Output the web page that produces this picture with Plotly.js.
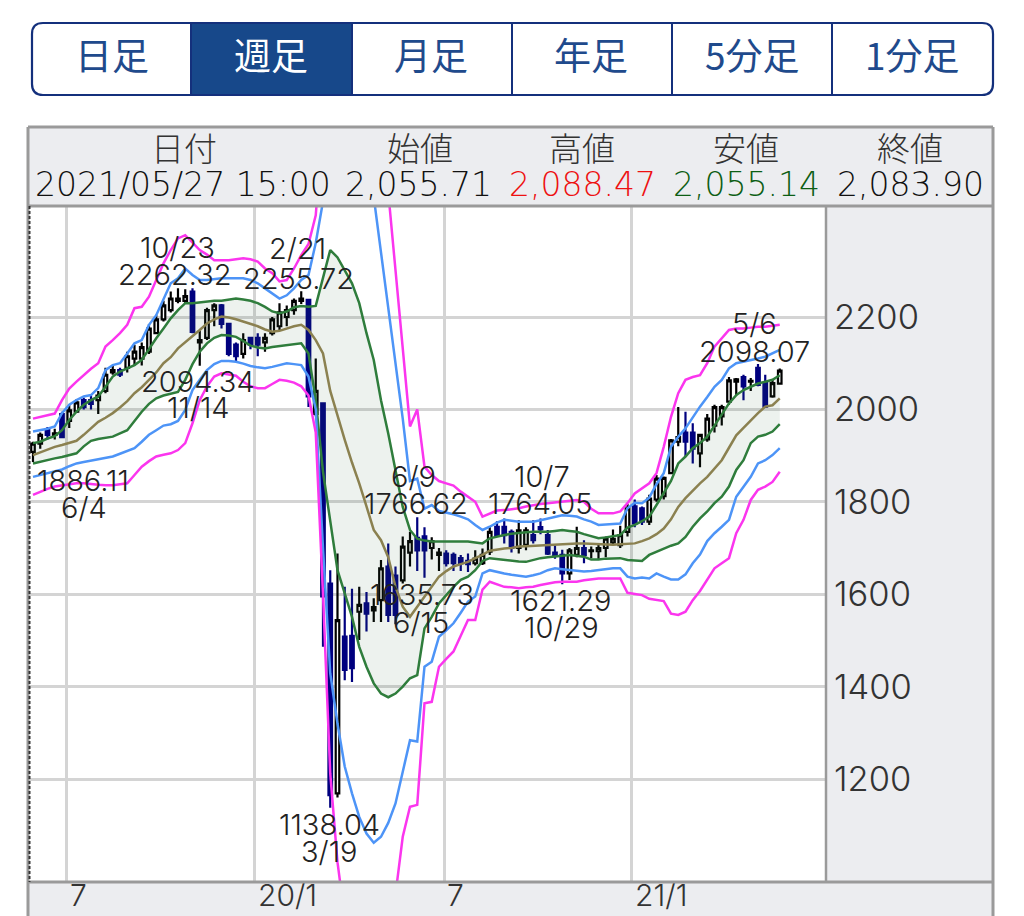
<!DOCTYPE html>
<html><head><meta charset="utf-8">
<script src="https://cdn.plot.ly/plotly-3.0.1.min.js"></script>
<style>html,body{margin:0;padding:0;background:#fff}#c{width:1024px;height:916px}</style>
</head><body><div id="c"></div>
<script>
const tabLabels=["日足","週足","月足","年足","5分足","1分足"];
const headerLabels=["日付","始値","高値","安値","終値"];
const headerValues=["2021/05/27 15:00","2,055.71","2,088.47","2,055.14","2,083.90"];
const xTickLabels=["7","20/1","7","21/1"];
const yTicks=[1200,1400,1600,1800,2000,2200];

const open=[1908,1926,1955,1945,1990,1975,1995,2020,2020,2020,
2040,2080,2085,2090,2110,2110,2125,2165,2195,2215,
2235,2235,2255,2145,2155,2215,2225,2185,2140,2120,
2155,2155,2145,2165,2180,2200,2215,2235,2237,1990,
2013,1623,1169,1508,1510,1562,1580,1565,1587,1660,
1640,1630,1690,1722,1725,1700,1685,1688,1685,1678,
1672,1667,1667,1692,1746,1746,1735,1700,1707,1728,
1745,1728,1690,1685,1645,1685,1700,1693,1693,1700,
1712,1706,1735,1790,1786,1757,1805,1812,1862,1930,
1950,1950,1905,1935,1965,1985,2017,2060,2070,2060,
2090,2057,2028,2055.71];
const high=[1930,1950,1962,1958,1995,2010,2022,2025,2030,2040,
2090,2095,2090,2125,2140,2145,2185,2205,2235,2255,
2262.32,2260,2262,2170,2220,2230,2228,2187,2145,2165,
2155,2165,2165,2200,2230,2225,2240,2255.72,2238,2110,
2013,1652,1688,1616,1612,1616,1605,1591,1674,1710,
1660,1725,1735,1766.62,1745,1723,1700,1695,1690,1685,
1688,1695,1699,1746,1758,1764,1740,1760,1745,1760,
1764.05,1739,1706,1696,1700,1746,1717,1703,1708,1725,
1740,1748,1795,1805,1790,1815,1858,1855,1936,2005,
1995,1970,1945,1990,2010,2010,2070,2068,2075,2068,
2098.07,2075,2065,2088.47];
const low=[1886.11,1915,1935,1935,1938,1960,1992,2000,2000,1990,
2035,2075,2070,2080,2095,2095,2120,2165,2190,2210,
2230,2230,2165,2094.34,2150,2180,2175,2115,2105,2110,
2130,2115,2125,2160,2170,2180,2205,2228,2005,1985,
1486,1138.04,1160,1414,1410,1501,1519,1540,1540,1540,
1535,1623,1660,1650,1635.73,1675,1650,1660,1650,1650,
1648,1662,1663,1685,1725,1710,1690,1688,1695,1710,
1730,1685,1677,1621.29,1631,1680,1667,1678,1675,1680,
1705,1700,1725,1745,1750,1750,1800,1805,1860,1920,
1897,1883,1875,1930,1950,1965,2010,2030,2020,2040,
2050,2003,2025,2055.14];
const close=[1926,1945,1945,1948,1940,1998,2015,2005,2012,2030,
2075,2085,2075,2115,2125,2135,2175,2195,2225,2240,
2240,2245,2168,2150,2215,2225,2185,2120,2115,2150,
2140,2140,2155,2195,2210,2215,2235,2240,2028,2040,
1595,1165,1544,1436,1440,1577,1558,1572,1656,1555,
1555,1703,1715,1695,1695,1715,1690,1667,1667,1667,
1665,1677,1685,1735,1728,1728,1700,1738,1738,1717,
1740,1688,1685,1645,1695,1700,1685,1695,1700,1720,
1720,1728,1786,1753,1757,1807,1850,1852,1933,1940,
1930,1915,1945,1980,2005,2005,2063,2065,2050,2062,
2053,2006,2057,2083.90];

const ma=[1901,1907,1913,1919,1923,1927,1932,1945,1960,1973,
1982,1992,2004,2018,2035,2048,2064,2080,2100,2113,
2132,2145,2157,2172,2186,2195,2201,2199,2195,2190,
2185,2180,2173,2168,2170,2175,2180,2183,2172,2150,
2121,2040,1985,1934,1885,1840,1790,1739,1717,1680,
1616,1573,1551,1573,1595,1617,1638,1650,1660,1665,
1670,1678,1685,1694,1697,1699,1700,1703,1704,1705,
1706,1707,1708,1709,1710,1710,1710,1709,1708,1708,
1707,1708,1709,1710,1715,1721,1730,1742,1762,1789,
1808,1825,1840,1854,1872,1890,1917,1944,1960,1977,
1992,2006,2009,2024];
const greenUp=[1927,1930,1937,1942,1955,1977,1995,2010,2020,2028,
2049,2071,2082,2089,2096,2107,2132,2154,2175,2197,
2215,2230,2230,2232,2233,2235,2235,2237,2240,2238,
2235,2230,2222,2212,2208,2212,2221,2224,2222,2224,
2285,2345,2329,2302,2273,2230,2165,2107,2020,1948,
1869,1789,1739,1720,1716,1714,1714,1714,1714,1714,
1714,1712,1710,1721,1725,1728,1731,1733,1734,1735,
1735,1735,1737,1739,1737,1735,1730,1725,1721,1723,
1725,1728,1744,1750,1758,1768,1793,1818,1845,1883,
1898,1916,1927,1941,1966,1991,2013,2031,2042,2049,
2056,2060,2064,2074];
const greenLo=[1883,1887,1890,1894,1897,1901,1905,1920,1932,1936,
1939,1941,1948,1955,1975,1995,2012,2024,2030,2034,
2038,2064,2098,2125,2143,2155,2161,2160,2157,2148,
2138,2134,2132,2135,2137,2139,2142,2143,2121,2020,
1865,1760,1652,1602,1551,1486,1443,1407,1385,1377,
1385,1400,1418,1425,1526,1551,1580,1598,1616,1631,
1638,1652,1672,1678,1676,1674,1672,1671,1670,1674,
1678,1680,1681,1683,1685,1683,1681,1675,1675,1677,
1678,1678,1674,1673,1672,1685,1692,1699,1705,1710,
1724,1746,1764,1779,1797,1811,1833,1869,1890,1927,
1941,1945,1952,1968];
const blueUp=[1952,1955,1958,1963,1992,2010,2020,2028,2031,2046,
2085,2096,2100,2121,2143,2150,2183,2204,2237,2273,
2284,2305,2291,2280,2280,2282,2284,2284,2284,2284,
2280,2273,2262,2251,2240,2247,2262,2280,2291,2360,
2450,2620,2700,2730,2720,2680,2600,2460,2340,2230,
2110,1980,1845,1850,1785,1793,1780,1777,1773,1768,
1762,1750,1739,1746,1755,1761,1759,1757,1757,1757,
1760,1764,1768,1771,1770,1768,1762,1757,1750,1751,
1753,1753,1786,1798,1797,1809,1838,1862,1919,1941,
1959,1984,2006,2027,2049,2064,2089,2100,2103,2107,
2110,2114,2121,2129];
const blueLo=[1854,1858,1862,1865,1870,1877,1883,1886,1889,1892,
1895,1898,1904,1910,1916,1930,1945,1955,1965,1968,
1975,1999,2042,2064,2085,2098,2105,2105,2103,2099,
2094,2091,2089,2092,2096,2100,2098,2096,2071,2000,
1700,1429,1320,1227,1169,1118,1082,1062,1075,1105,
1147,1219,1284,1281,1443,1454,1508,1522,1537,1560,
1584,1595,1645,1652,1648,1645,1642,1640,1638,1641,
1645,1652,1656,1654,1652,1650,1649,1650,1652,1654,
1656,1656,1638,1634,1636,1634,1645,1638,1632,1632,
1643,1667,1686,1715,1732,1746,1761,1811,1833,1854,
1883,1890,1901,1916];
const magentaUp=[1980,1984,1988,1991,2020,2045,2060,2075,2088,2100,
2136,2150,2165,2183,2219,2222,2244,2280,2316,2345,
2370,2377,2360,2345,2335,2323,2323,2323,2325,2327,
2325,2320,2305,2295,2277,2280,2305,2334,2358,2420,
2620,2850,2960,3000,3000,2980,2920,2820,2640,2470,
2290,2130,1963,2000,1876,1858,1845,1840,1835,1822,
1810,1800,1768,1775,1781,1782,1784,1786,1790,1793,
1795,1797,1799,1800,1802,1804,1800,1785,1775,1775,
1775,1779,1797,1818,1830,1840,1862,1919,1984,2035,
2064,2070,2074,2100,2136,2154,2172,2175,2175,2177,
2179,2179,2181,2183];
const magentaLo=[1815,1822,1828,1833,1835,1837,1840,1840,1838,1837,
1836,1836,1838,1840,1858,1876,1888,1898,1902,1905,
1912,1927,1970,2020,2050,2071,2078,2076,2073,2060,
2050,2046,2046,2055,2064,2062,2058,2050,2030,1950,
1600,1212,1020,900,800,740,700,700,760,850,
950,1075,1140,1144,1364,1367,1443,1460,1476,1510,
1544,1544,1610,1627,1622,1616,1615,1613,1615,1616,
1620,1623,1626,1627,1627,1627,1630,1632,1634,1634,
1634,1634,1603,1600,1598,1590,1587,1585,1558,1555,
1562,1587,1607,1631,1656,1667,1678,1732,1761,1804,
1826,1833,1843,1865];

const peakLabels=[
 ["10/23",177,248],["2262.32",175,275],["2/21",297,249],["2255.72",298,278],
 ["2094.34",198,382],["11/14",198,408],["1886.11",83,480],["6/4",84,507],
 ["6/9",413,477],["1766.62",416,503],["10/7",542,477],["1764.05",540,503],
 ["1635.73",422,594],["6/15",421,622],["1621.29",561,600],["10/29",561,627],
 ["1138.04",329,824],["3/19",329,851],["5/6",754,323],["2098.07",754,351]];

const W=1024,H=916;
const fx=p=>p/W, fy=p=>1-p/H;
const LAT='Inter, "Noto Sans CJK JP", sans-serif';
const WIDE='"DejaVu Sans", sans-serif';
const CJK='"Noto Sans CJK JP", sans-serif';
const idx=ma.map((_,i)=>i);
const PANEL='#ecedf0', EDGE='#9a9a9a', NAVY='#14307c';

function line(name,y,color,extra){return Object.assign({type:'scatter',mode:'lines',name,x:idx,y,line:{color,width:2.5},hoverinfo:'skip'},extra||{});}
const traces=[
 {type:'candlestick',name:'週足',x:idx,open,high,low,close,whiskerwidth:0,
  increasing:{line:{color:'#000000',width:2.2},fillcolor:'#ffffff'},
  decreasing:{line:{color:'#00007f',width:2.2},fillcolor:'#00007f'}},
 line('-1σ',greenLo,'#2f7d3c'),
 line('+1σ',greenUp,'#2f7d3c',{fill:'tonexty',fillcolor:'rgba(60,115,70,0.09)'}),
 line('+2σ',blueUp,'#4d94f7'),
 line('-2σ',blueLo,'#4d94f7'),
 line('+3σ',magentaUp,'#fb35ee'),
 line('-3σ',magentaLo,'#fb35ee'),
 line('MA',ma,'#8b8150')
];

function rect(x0,y0,x1,y1,o){return Object.assign({type:'rect',xref:'paper',yref:'paper',x0:fx(x0),x1:fx(x1),y0:fy(y1),y1:fy(y0),line:{width:0},layer:'below'},o||{});}
function seg(x0,y0,x1,y1,color,width,dash){return {type:'line',xref:'paper',yref:'paper',x0:fx(x0),x1:fx(x1),y0:fy(y0),y1:fy(y1),line:{color,width,dash:dash||'solid'},layer:'above'};}
function rounded(x0,y0,x1,y1,r){const X=fx,Y=fy;return `M${X(x0+r)},${Y(y0)}L${X(x1-r)},${Y(y0)}Q${X(x1)},${Y(y0)} ${X(x1)},${Y(y0+r)}L${X(x1)},${Y(y1-r)}Q${X(x1)},${Y(y1)} ${X(x1-r)},${Y(y1)}L${X(x0+r)},${Y(y1)}Q${X(x0)},${Y(y1)} ${X(x0)},${Y(y1-r)}L${X(x0)},${Y(y0+r)}Q${X(x0)},${Y(y0)} ${X(x0+r)},${Y(y0)}Z`;}

const shapes=[
 rect(28,127,993,206,{fillcolor:PANEL}),
 rect(826,206,993,882,{fillcolor:PANEL}),
 rect(28,882,993,916,{fillcolor:PANEL}),
 rect(191,23,352,95,{fillcolor:'#17488a'}),
 {type:'path',xref:'paper',yref:'paper',path:rounded(32,23,993,95,11),line:{color:NAVY,width:2.2},layer:'above'},
 ...[191,352,512,672,832].map(x=>seg(x,23,x,95,NAVY,2)),
 seg(28,127,993,127,EDGE,3), seg(28,206,993,206,EDGE,3), seg(28,882,993,882,EDGE,3),
 seg(28,127,28,916,EDGE,3), seg(993,127,993,916,EDGE,3), seg(826,206,826,882,EDGE,2.5),
 seg(29.5,206,29.5,882,'#333333',2,'3px,2px')
];

const tabX=[112,271,431,591,752,912];
const headerX=[184,420,582,746,910];
const headerValueX=[183,418,582,746,910];
const headerValueColor=['#111111','#111111','#ee1111','#0c5e14','#111111'];
function note(text,x,y,size,color,family,weight){return {text,x:fx(x),y:fy(y),xref:'paper',yref:'paper',xanchor:'center',yanchor:'middle',showarrow:false,font:{family,size,color,weight:weight||300}};}
const annotations=[
 ...tabLabels.map((t,i)=>note(t,tabX[i],54,37,i===1?'#ffffff':'#1f4a8c',CJK,400)),
 ...headerLabels.map((t,i)=>note(t,headerX[i],147,33,'#333333',CJK)),
 ...headerValues.map((t,i)=>note(t,headerValueX[i],184,33,headerValueColor[i],WIDE,200)),
 ...peakLabels.map(l=>note(l[0],l[1],l[2],29,'#222222',LAT))
];

const layout={
 width:W,height:H,margin:{l:0,r:0,t:0,b:0,pad:0},paper_bgcolor:'#ffffff',plot_bgcolor:'#ffffff',showlegend:false,
 xaxis:{domain:[fx(29),fx(826)],range:[-0.55,109.38],type:'linear',rangeslider:{visible:false},
  tickmode:'array',tickvals:[4.69,30.62,56.7,82.62],ticktext:xTickLabels,ticks:'',
  ticklabelposition:'outside right',ticklabelshift:3,ticklabelstandoff:-7,tickfont:{family:LAT,size:30,color:'#333333',weight:300},
  showgrid:true,gridcolor:'#d4d4d4',gridwidth:3,zeroline:false,showline:false,fixedrange:true},
 yaxis:{domain:[fy(882),fy(206)],range:[977.06,2440.26],side:'right',
  tickmode:'array',tickvals:yTicks,ticktext:yTicks.map(String),ticks:'',ticklabelstandoff:7,
  tickfont:{family:LAT,size:34.5,color:'#333333',weight:300},
  showgrid:true,gridcolor:'#d4d4d4',gridwidth:3,zeroline:false,showline:false,fixedrange:true},
 shapes,annotations
};
Plotly.newPlot('c',traces,layout,{staticPlot:true,displayModeBar:false});
</script></body></html>
